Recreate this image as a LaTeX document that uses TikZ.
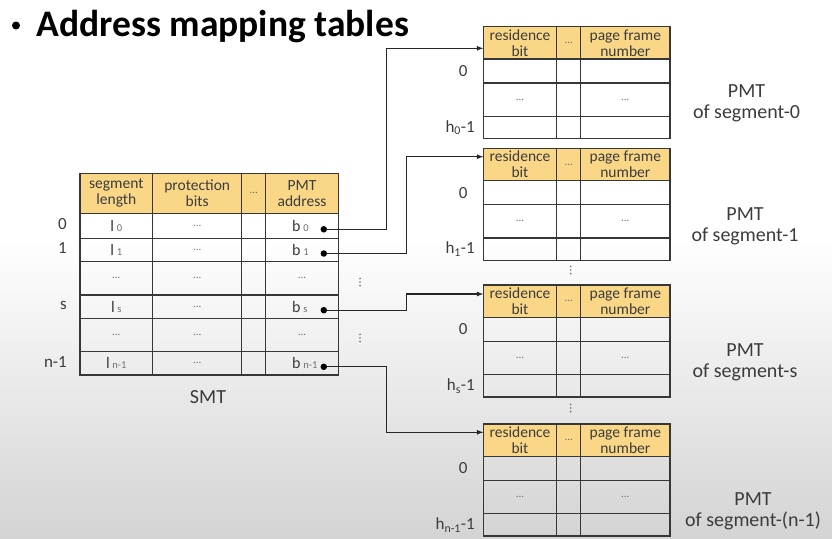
\documentclass[tikz,border=0pt]{standalone}
\usepackage{fontspec}
\setmainfont{Carlito}
\usetikzlibrary{arrows,calc}
\definecolor{headfill}{RGB}{249,215,135}
\definecolor{linegray}{RGB}{55,55,55}
\definecolor{txtgray}{RGB}{60,60,60}
\definecolor{dotgray}{RGB}{110,110,110}
\newcommand{\smtent}[2]{#1\,{\fontsize{10.5}{10.5}\selectfont\color{dotgray}#2}}

\begin{document}
\begin{tikzpicture}[x=1pt,y=-1pt,
  grid/.style={draw=linegray, line width=1.4},
  head/.style={align=center, font=\fontsize{15.5}{16}\selectfont, text=txtgray},
  cell/.style={font=\fontsize{16}{16}\selectfont, text=txtgray, inner sep=0},
  cdots/.style={font=\fontsize{11}{11}\selectfont, text=dotgray, inner sep=0},
  rowlab/.style={font=\fontsize{17}{18}\selectfont, text=txtgray, inner sep=0},
  pmtlab/.style={align=center, font=\fontsize{20}{21}\selectfont, text=txtgray},
  dot/.style={circle, fill=black, inner sep=0, minimum size=6.5},
  link/.style={-latex, draw=black!85, line width=1.2}]
\useasboundingbox (0,0) rectangle (832,538);
\fill[white] (0,0) rectangle (832,538);
\shade[top color=white, bottom color=black!17] (0,240) rectangle (832,538);

\node[circle, fill=black, inner sep=0, minimum size=8] (tbul) at (16,25.5) {};
\node[anchor=base west, font=\fontsize{37.5}{40}\selectfont\bfseries] (title) at (33,36) {Address mapping tables};

% segment map table
\fill[headfill] (80,173.3) rectangle (338.3,213.3);
\draw[grid] (80,173.3) rectangle (338.3,375);
\foreach \y in {213.3,238.3,261.7,295,318.3,351.7}
  \draw[grid] (80,\y) -- (338.3,\y);
\foreach \x in {152.7,241.7,265.7}
  \draw[grid] (\x,173.3) -- (\x,375);

\node[head] (hlen) at (116.3,193.3) {segment\\length};
\node[head] (hprot) at (197.2,193.3) {protection\\bits};
\node[cdots] (hmore) at (253.7,193.3) {...};
\node[head] (haddr) at (302,193.3) {PMT\\address};

\foreach \y/\r/\i in {225.8/0/0, 250/1/1, 306.7/s/s, 363.3/{n-1}/n}{
  \node[rowlab, anchor=east] (r\i) at (67,\y-1.5) {\r};
  \node[cell] (l\i) at (116.3,\y) {\smtent{l}{\r}};
  \node[cdots] (p\i) at (197.2,\y) {...};
  \node[cell, anchor=west] (a\i) at (292,\y) {\smtent{b}{\r}};
  \node[dot] (b\i) at (323.8,\y+3.5) {};
}
\foreach \y in {278.3,335}{
  \node[cdots] at (116.3,\y) {...};
  \node[cdots] at (197.2,\y) {...};
  \node[cdots] at (302,\y) {...};
}
\node[pmtlab] (smt) at (208,397) {SMT};

% vertical dots
\foreach \x/\y in {360/282, 360/338, 570.7/270, 570.7/408}
  \foreach \d in {-3.6,0,3.6}
    \fill[dotgray] (\x,\y+\d) circle (0.9);

% page map tables
\foreach \t/\k/\i/\s/\a/\lx/\ly in {26.7/0/0/0/21.6/746.5/103,
    148.3/1/1/1/8.4/745/226.7, 285/s/s/s/9/745/362,
    424/{n-1}/n/{(n-1)}/8.3/753/511}{
  \fill[headfill] (483.3,\t) rectangle (670,\t+32.3);
  \draw[grid] (483.3,\t) rectangle (670,\t+112);
  \foreach \d in {32.3,56.3,89.7}
    \draw[grid] (483.3,\t+\d) -- (670,\t+\d);
  \foreach \x in {556.7,580.7}
    \draw[grid] (\x,\t) -- (\x,\t+112);
  \node[head] at (520,\t+16.2) {residence\\bit};
  \node[cdots] at (568.7,\t+16.2) {...};
  \node[head] at (625.3,\t+16.2) {page frame\\number};
  \node[cdots] at (520,\t+73) {...};
  \node[cdots] at (625.3,\t+73) {...};
  \node[rowlab] at (463.3,\t+44.4) {0};
  \node[rowlab, anchor=east] at (475,\t+101) {h\textsubscript{\k}-1};
  \node[pmtlab] (pmt\i) at (\lx,\ly) {PMT\\of segment-\s};
  \coordinate (in\i) at (483.3,\t+\a);
}

\draw[link] (b0) -- ++(62.9,0) |- (in0);
\draw[link] (b1) -- ++(82.9,0) |- (in1);
\draw[link] (bs) -- ++(82.9,0) |- (ins);
\draw[link] (bn) -- ++(62.9,0) |- (inn);
\end{tikzpicture}
\end{document}
